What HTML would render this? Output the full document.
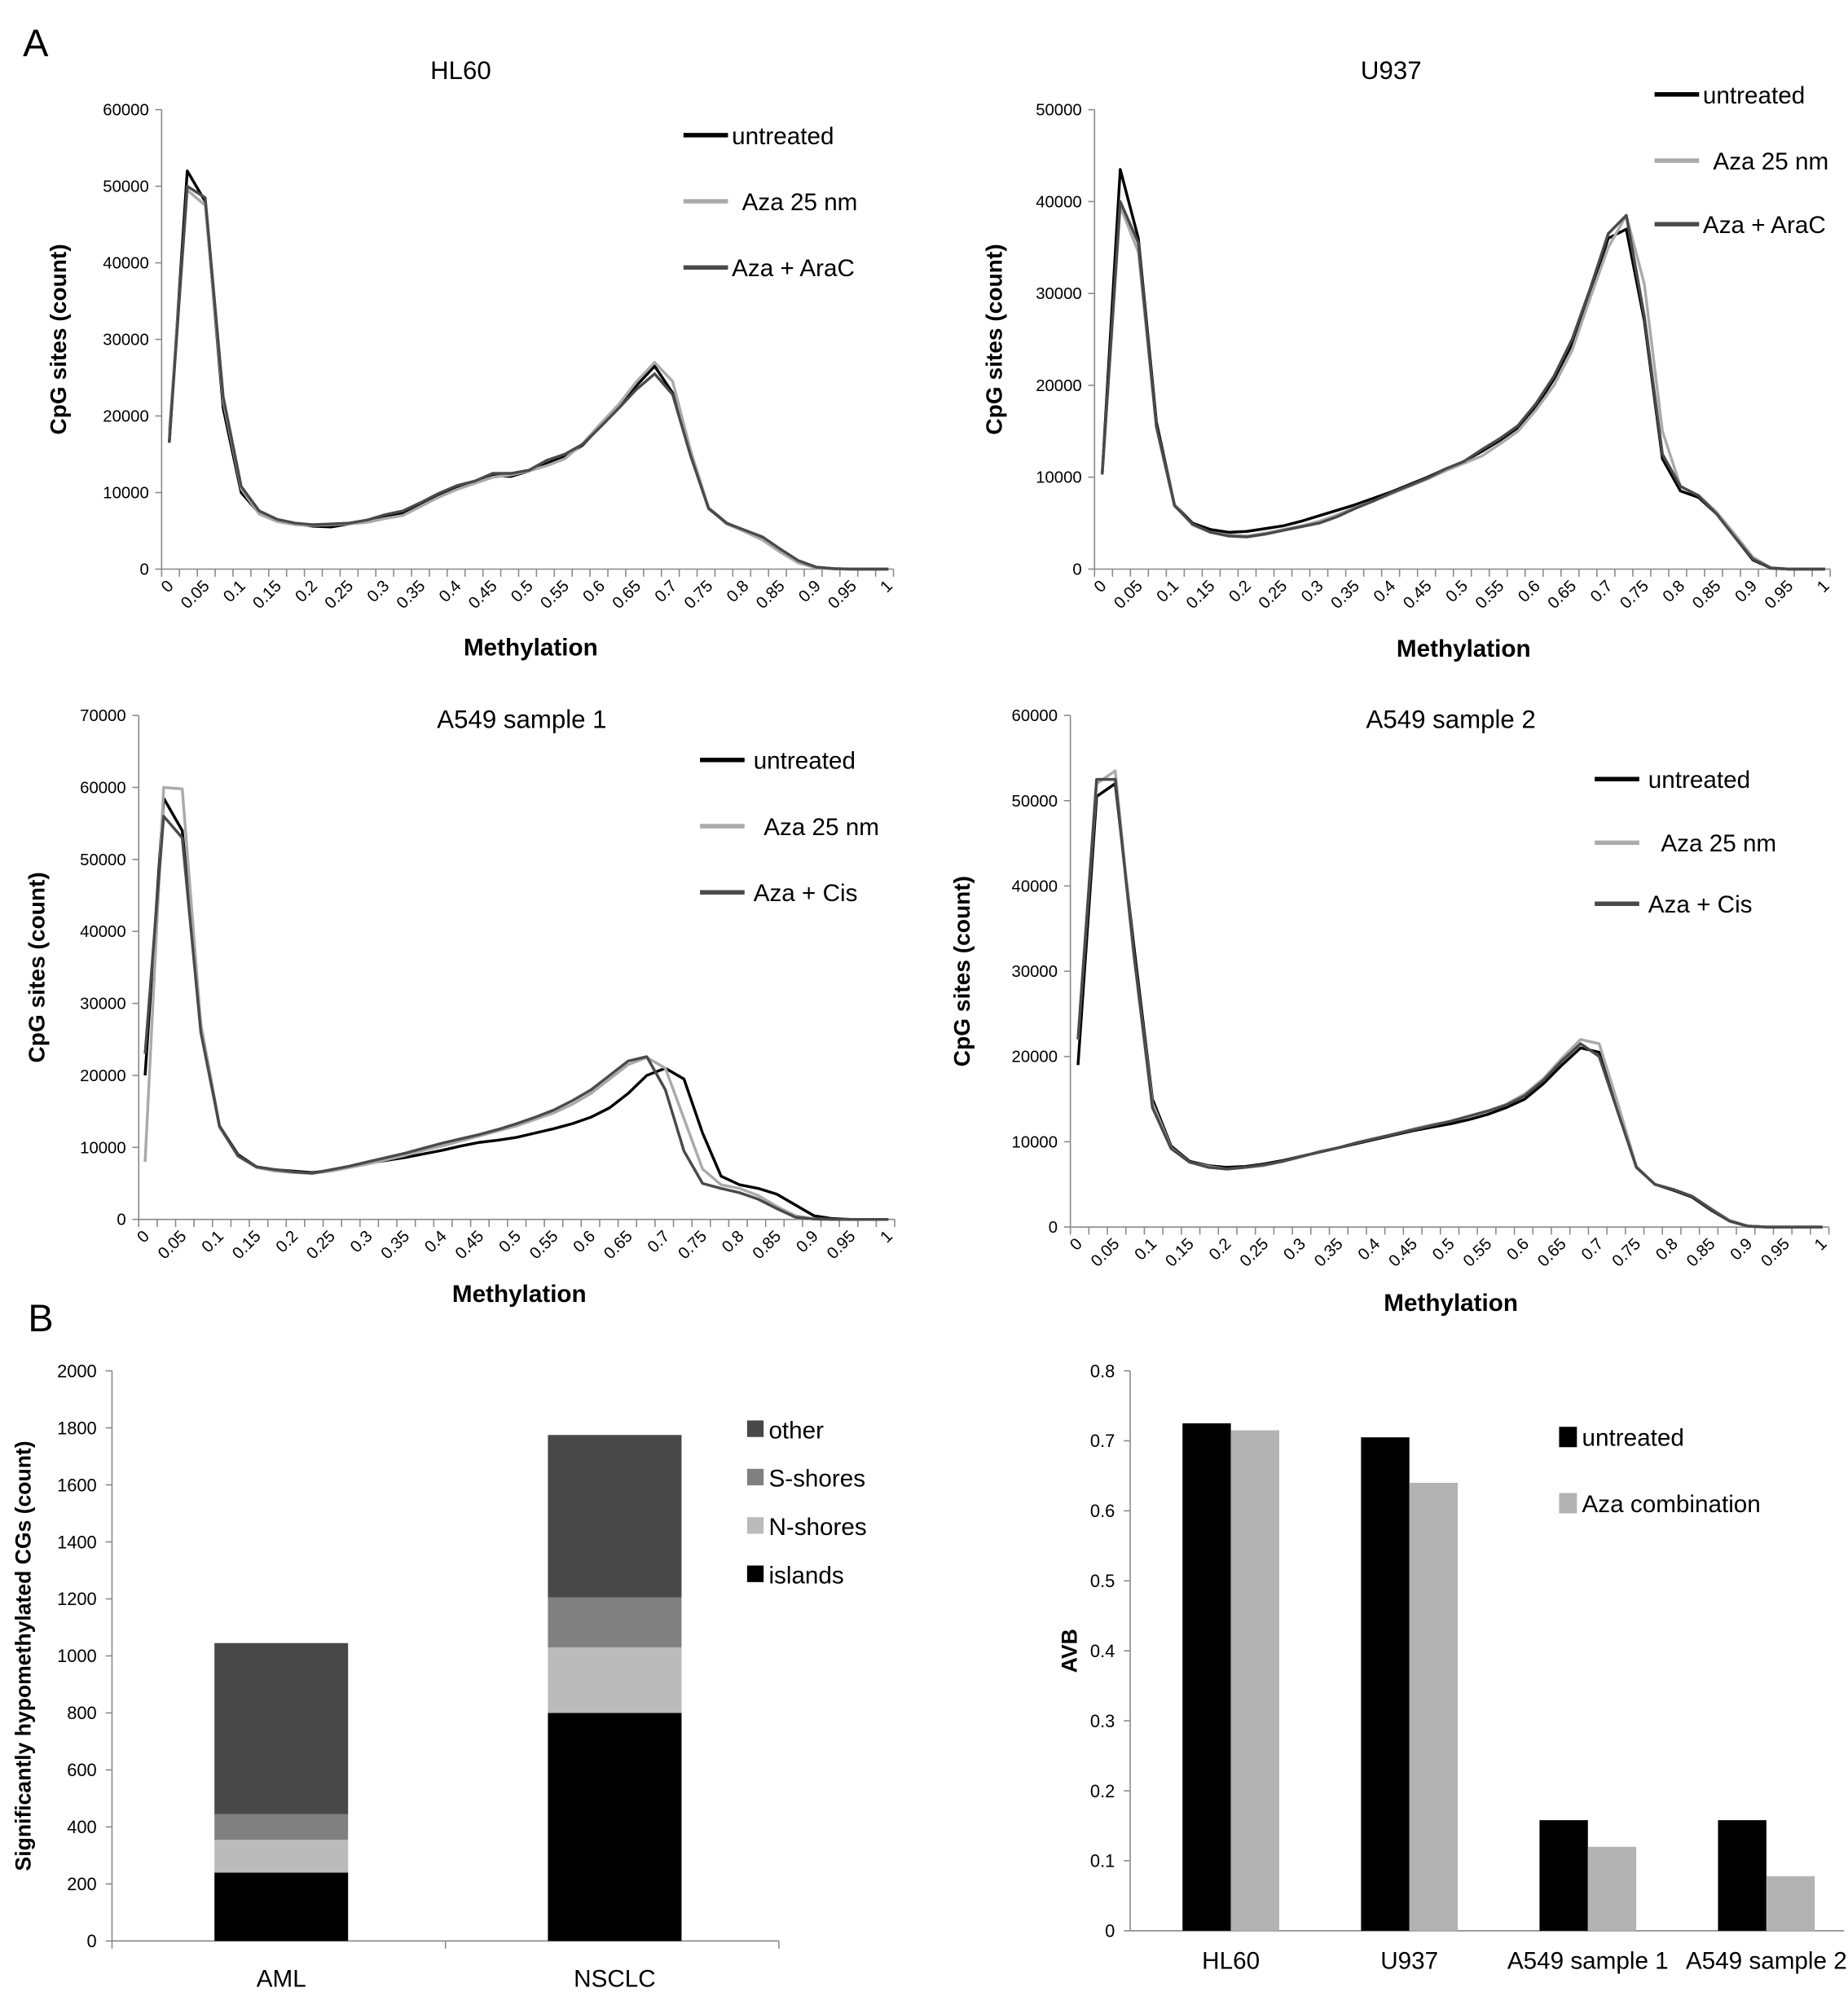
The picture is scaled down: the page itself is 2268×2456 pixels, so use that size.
<!DOCTYPE html>
<html><head><meta charset="utf-8"><style>
html,body{margin:0;padding:0;background:#fff}
svg{display:block}
text{font-family:"Liberation Sans",sans-serif;fill:#000}
</style></head><body>
<svg id="fig" width="2268" height="2456" viewBox="0 0 1452 1572" xmlns="http://www.w3.org/2000/svg">
<text x="18" y="44" font-size="30">A</text>
<text x="22" y="1046" font-size="30">B</text>
</svg>
<script>
const methX = [0,0.025,0.05,0.075,0.1,0.125,0.15,0.175,0.2,0.225,0.25,0.275,0.3,0.325,0.35,0.375,0.4,0.425,0.45,0.475,0.5,0.525,0.55,0.575,0.6,0.625,0.65,0.675,0.7,0.725,0.75,0.775,0.8,0.825,0.85,0.875,0.9,0.925,0.95,0.975,1];
const xTickLabels = ["0","0.05","0.1","0.15","0.2","0.25","0.3","0.35","0.4","0.45","0.5","0.55","0.6","0.65","0.7","0.75","0.8","0.85","0.9","0.95","1"];

const hl60Untreated = [16500,52000,48000,21000,10000,7300,6300,5900,5600,5500,5900,6300,6900,7300,8500,9700,10700,11400,12200,12100,12800,13800,14700,16200,18700,21300,24000,26500,23000,15000,8000,6000,5000,4000,2500,1000,200,50,0,0,0];
const hl60Aza = [18000,49500,47500,22000,10500,7200,6200,5800,5700,5800,5900,6100,6600,7000,8200,9400,10400,11200,12000,12300,12800,13500,14400,16400,19000,21500,24500,27000,24500,15500,8000,5900,4900,3800,2200,800,150,30,0,0,0];
const hl60AraC = [16500,50000,48500,22500,10800,7600,6500,6000,5800,5900,6000,6400,7100,7600,8700,9900,10900,11500,12500,12500,12900,14200,15000,16300,18600,21000,23500,25500,22800,14800,7900,6000,5100,4200,2600,1100,250,60,0,0,0];

const u937Untreated = [10300,43500,36000,16000,7000,5000,4300,4000,4100,4400,4700,5200,5800,6400,7000,7700,8400,9200,10000,10900,11700,12800,14000,15400,17600,20700,24500,30000,36000,37000,27000,12000,8500,7800,6000,3500,1000,100,0,0,0];
const u937Aza = [10300,39500,34500,15500,7000,4800,4000,3700,3600,3900,4300,4700,5200,5900,6700,7400,8200,9000,9800,10700,11500,12300,13600,15000,17300,20000,23800,29500,35000,38500,31000,15000,9000,8000,6200,3800,1300,150,0,0,0];
const u937AraC = [10300,40000,35500,15500,6900,4900,4000,3600,3500,3800,4200,4600,5000,5700,6600,7400,8300,9100,9900,10900,11700,13000,14200,15600,18000,21000,25000,30500,36500,38500,27500,12500,9000,8000,6000,3500,1100,120,0,0,0];

const a1Untreated = [20000,58500,54000,27000,13000,9000,7300,6900,6700,6500,6800,7300,7800,8200,8600,9100,9600,10200,10700,11000,11400,12000,12600,13300,14200,15500,17500,20000,21000,19500,12000,6000,4800,4300,3500,2000,500,100,0,0,0];
const a1Aza = [8000,60000,59800,27000,12800,8800,7200,6700,6500,6400,6700,7200,7700,8300,8900,9600,10200,10900,11600,12300,13000,13900,14800,16000,17500,19500,21500,22500,21000,14000,7000,4800,4300,3300,1800,500,80,0,0,0,0];
const a1Cis = [23000,56000,53000,26000,13000,8800,7300,6900,6600,6400,6900,7400,8000,8600,9200,9900,10600,11200,11800,12500,13300,14200,15200,16500,18000,20000,22000,22600,18000,9500,5000,4300,3700,2800,1500,300,50,0,0,0,0];

const a2Untreated = [19000,50500,52000,33000,15000,9500,7700,7200,7000,7100,7400,7800,8300,8800,9300,9800,10300,10800,11300,11700,12100,12600,13200,14000,15000,16800,19000,21000,20500,14000,7000,5000,4300,3500,2000,700,100,0,0,0,0];
const a2Aza = [22000,52000,53500,32000,14500,9300,7600,7100,6800,7000,7200,7700,8200,8900,9300,9900,10400,10900,11500,12000,12400,13000,13600,14400,15600,17400,19800,22000,21500,14500,7100,5000,4400,3600,2200,800,100,0,0,0,0];
const a2Cis = [22000,52500,52500,32000,14000,9200,7600,7000,6800,7000,7300,7700,8300,8800,9300,9900,10400,10900,11400,11900,12400,13000,13600,14300,15400,17200,19500,21500,20000,13500,7000,5000,4400,3600,2100,700,100,0,0,0,0];

const stackCats = ["AML","NSCLC"];
const stackIslands = [240,800];
const stackNShores = [115,230];
const stackSShores = [90,175];
const stackOther = [600,570];
const stackYTicks = [0,200,400,600,800,1000,1200,1400,1600,1800,2000];

const avbCats = ["HL60","U937","A549 sample 1","A549 sample 2"];
const avbUntreated = [0.725,0.705,0.158,0.158];
const avbAza = [0.715,0.64,0.12,0.078];
const avbYTicks = ["0","0.1","0.2","0.3","0.4","0.5","0.6","0.7","0.8"];

const NS="http://www.w3.org/2000/svg";
const fig=document.getElementById('fig');
function mk(tag,attrs,parent,txt){const e=document.createElementNS(NS,tag);for(const k in attrs)e.setAttribute(k,attrs[k]);if(txt!==undefined)e.textContent=txt;(parent||fig).appendChild(e);return e;}

function linePanel(o){
  const g=mk('g',{});
  
  
  const xs=v=>o.x0+(o.x1-o.x0)*v;
  const ys=v=>o.y0-(o.y0-o.yTop)*v/o.yMax;
  mk('line',{x1:o.ax,y1:o.y0,x2:o.ax,y2:o.yTop,stroke:'#888','stroke-width':1},g);
  mk('line',{x1:o.ax,y1:o.y0,x2:o.xEnd,y2:o.y0,stroke:'#888','stroke-width':1},g);
  for(let v=0;v<=o.yMax;v+=o.yStep){
    mk('line',{x1:o.ax-5,y1:ys(v),x2:o.ax,y2:ys(v),stroke:'#888'},g);
    const t=mk('text',{x:o.ax-10,y:ys(v)+4.5,'font-size':13,'text-anchor':'end'},g,String(v));
    
    
  }
  for(let i=0;i<=41;i++){const x=o.ax+i*(o.xEnd-o.ax)/41;mk('line',{x1:x,y1:o.y0,x2:x,y2:o.y0+6,stroke:'#888'},g);}
  xTickLabels.forEach((l,i)=>{
    const x=xs(i*0.05)+4,y=o.y0+14;
    const t=mk('text',{x:x,y:y,'font-size':13,'text-anchor':'end',transform:`rotate(-45 ${x} ${y})`},g,l);
    
    
  });
  o.series.forEach((s,si)=>{
    const p=mk('polyline',{points:s.data.map((v,i)=>xs(methX[i])+','+ys(v)).join(' '),fill:'none',stroke:s.color,'stroke-width':2.2,'stroke-linejoin':'round'},g);
    
    
    const ly=o.legY[si];
    const ll=mk('line',{x1:o.legX,y1:ly,x2:o.legX+35,y2:ly,stroke:s.color,'stroke-width':3.5},g);
    
    
    const lt=mk('text',{x:o.legX+38+(s.pad||0),y:ly+7,'font-size':19},g,s.label);
    
    
  });
  const tt=mk('text',{x:o.titleX,y:o.titleY,'font-size':20,'text-anchor':'middle'},g,o.title);
  
  
  const xt=mk('text',{x:o.xtX,y:o.xtY,'font-size':19,'font-weight':'bold','text-anchor':'middle'},g,'Methylation');
  
  
  const cy=(o.y0+o.yTop)/2;
  const yt=mk('text',{x:o.ytX,y:cy,'font-size':18,'font-weight':'bold','text-anchor':'middle',transform:`rotate(-90 ${o.ytX} ${cy})`},g,'CpG sites (count)');
  
  
}
const C1='#000',C2='#aaa',C3='#4a4a4a';
linePanel({name:'hl60-chart',title:'HL60',titleX:362,titleY:62,ax:127,xEnd:702,x0:133,x1:698,y0:447,yTop:86,yMax:60000,yStep:10000,xtX:417,xtY:515,ytX:52,legX:537,legY:[106,158,210],
 series:[{key:'untreated',label:'untreated',data:hl60Untreated,color:C1},{key:'aza',label:'Aza 25 nm',data:hl60Aza,color:C2,pad:8},{key:'aza-arac',label:'Aza + AraC',data:hl60AraC,color:C3}]});
linePanel({name:'u937-chart',title:'U937',titleX:1093,titleY:62,ax:860,xEnd:1438,x0:866,x1:1434,y0:447,yTop:86,yMax:50000,yStep:10000,xtX:1150,xtY:516,ytX:787,legX:1300,legY:[74,126,176],
 series:[{key:'untreated',label:'untreated',data:u937Untreated,color:C1},{key:'aza',label:'Aza 25 nm',data:u937Aza,color:C2,pad:8},{key:'aza-arac',label:'Aza + AraC',data:u937AraC,color:C3}]});
linePanel({name:'a549-sample1-chart',title:'A549  sample 1',titleX:410,titleY:572,ax:109,xEnd:703,x0:114,x1:698,y0:958,yTop:562,yMax:70000,yStep:10000,xtX:408,xtY:1023,ytX:35,legX:550,legY:[597,649,701],
 series:[{key:'untreated',label:'untreated',data:a1Untreated,color:C1,pad:4},{key:'aza',label:'Aza 25 nm',data:a1Aza,color:C2,pad:12},{key:'aza-cis',label:'Aza + Cis',data:a1Cis,color:C3,pad:4}]});
linePanel({name:'a549-sample2-chart',title:'A549 sample 2',titleX:1140,titleY:572,ax:841,xEnd:1437,x0:847,x1:1432,y0:964,yTop:562,yMax:60000,yStep:10000,xtX:1140,xtY:1030,ytX:762,legX:1253,legY:[612,662,710],
 series:[{key:'untreated',label:'untreated',data:a2Untreated,color:C1,pad:4},{key:'aza',label:'Aza 25 nm',data:a2Aza,color:C2,pad:14},{key:'aza-cis',label:'Aza + Cis',data:a2Cis,color:C3,pad:4}]});

(function(){
  const g=mk('g',{});
  
  
  const ax=88,y0=1525,yTop=1077,yMax=2000,xEnd=612;
  const ys=v=>y0-(y0-yTop)*v/yMax;
  mk('line',{x1:ax,y1:y0,x2:ax,y2:yTop,stroke:'#888'},g);
  mk('line',{x1:ax,y1:y0,x2:xEnd,y2:y0,stroke:'#888'},g);
  stackYTicks.forEach(v=>{mk('line',{x1:ax-5,y1:ys(v),x2:ax,y2:ys(v),stroke:'#888'},g);
    const t=mk('text',{x:ax-12,y:ys(v)+5,'font-size':14,'text-anchor':'end'},g,String(v));
    
    });
  const cw=(xEnd-ax)/stackCats.length;
  [ax,ax+cw,xEnd].forEach(x=>mk('line',{x1:x,y1:y0,x2:x,y2:y0+6,stroke:'#888'},g));
  const layers=[{k:'islands',d:stackIslands,c:'#000'},{k:'n-shores',d:stackNShores,c:'#bbb'},{k:'s-shores',d:stackSShores,c:'#808080'},{k:'other',d:stackOther,c:'#484848'}];
  stackCats.forEach((cat,i)=>{
    const cx=ax+cw*(i+0.5)+2,bw=105;let acc=0;
    layers.forEach(L=>{const v=L.d[i];
      const r=mk('rect',{x:cx-bw/2,y:ys(acc+v),width:bw,height:ys(acc)-ys(acc+v),fill:L.c},g);
      
      
      acc+=v;});
    const t=mk('text',{x:cx,y:y0+36,'font-size':19,'text-anchor':'middle'},g,cat);
    
    
  });
  const leg=[['other','#484848',1123],['S-shores','#808080',1161],['N-shores','#bbb',1199],['islands','#000',1237]];
  leg.forEach(l=>{const r=mk('rect',{x:587,y:l[2]-7,width:13,height:13,fill:l[1]},g);
    
    
    const t=mk('text',{x:604,y:l[2]+7,'font-size':19},g,l[0]);
    
    });
  const cy=(y0+yTop)/2;
  const yt=mk('text',{x:24,y:cy,'font-size':17,'font-weight':'bold','text-anchor':'middle',transform:`rotate(-90 24 ${cy})`},g,'Significantly hypomethylated CGs (count)');
  
  
})();

(function(){
  const g=mk('g',{});
  
  
  const ax=888,y0=1517,yTop=1077,yMax=0.8,xEnd=1449;
  const ys=v=>y0-(y0-yTop)*v/yMax;
  mk('line',{x1:ax,y1:y0,x2:ax,y2:yTop,stroke:'#888'},g);
  mk('line',{x1:ax,y1:y0,x2:xEnd,y2:y0,stroke:'#888'},g);
  avbYTicks.forEach(l=>{const v=parseFloat(l);mk('line',{x1:ax-5,y1:ys(v),x2:ax,y2:ys(v),stroke:'#888'},g);
    const t=mk('text',{x:ax-12,y:ys(v)+5,'font-size':14,'text-anchor':'end'},g,l);
    
    });
  const cw=(xEnd-ax)/avbCats.length,bw=38;
  avbCats.forEach((cat,i)=>{
    const cx=ax+cw*(i+0.5)+9;
    const r1=mk('rect',{x:cx-bw,y:ys(avbUntreated[i]),width:bw,height:y0-ys(avbUntreated[i]),fill:'#000'},g);
    
    
    const r2=mk('rect',{x:cx,y:ys(avbAza[i]),width:bw,height:y0-ys(avbAza[i]),fill:'#b3b3b3'},g);
    
    
    const t=mk('text',{x:cx,y:y0+30,'font-size':19,'text-anchor':'middle'},g,cat);
    
    
  });
  [['untreated','#000',1129],['Aza combination','#b3b3b3',1181]].forEach(l=>{
    const r=mk('rect',{x:1225,y:l[2]-8,width:14,height:16,fill:l[1]},g);
    
    
    const t=mk('text',{x:1243,y:l[2]+7,'font-size':19},g,l[0]);
    
    });
  const cy=(y0+yTop)/2;
  const yt=mk('text',{x:846,y:cy,'font-size':17,'font-weight':'bold','text-anchor':'middle',transform:`rotate(-90 846 ${cy})`},g,'AVB');
  
  
})();
</script>
</body></html>
